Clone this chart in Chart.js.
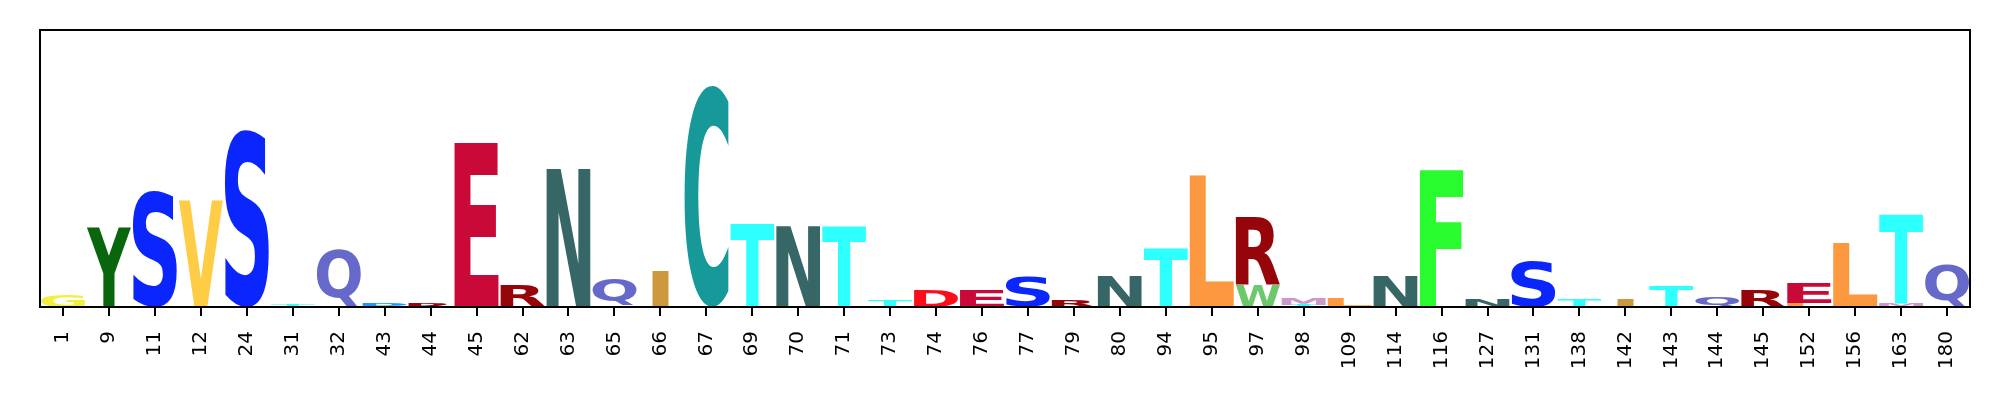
<!DOCTYPE html>
<html>
<head>
<meta charset="utf-8">
<script src="https://cdn.jsdelivr.net/npm/chart.js@4.4.1/dist/chart.umd.min.js"></script>
<style>
  body { margin: 0; background: #ffffff; }
</style>
</head>
<body>
<canvas id="logo" width="2000" height="400"></canvas>
<script>
// Datos del logo (posiciones y altura de cada letra, en bits)
const posiciones = ['1','9','11','12','24','31','32','43','44','45','62','63','65','66','67','69','70','71','73','74','76','77','79','80','94','95','97','98','109','114','116','127','131','138','142','143','144','145','152','156','163','180'];

// letra de abajo de cada columna (vacio si no hay)
const letrasAbajo = ['','','','','','','','','','','W','','I','','','','','','','','','','','','','','W','T','','','','','','','','','','','L','','M',''];
const alturasAbajo = [0,0,0,0,0,0,0,0,0,0,0.02,0,0.02,0,0,0,0,0,0,0,0,0,0,0,0,0,0.34,0.03,0,0,0,0,0,0,0,0,0,0,0.07,0,0.05,0];

// letra de arriba de cada columna
const letrasArriba = ['G','Y','S','V','S','T','Q','P','R','E','R','N','Q','I','C','T','N','T','T','D','E','S','R','N','T','L','R','M','L','N','F','N','S','T','I','T','Q','R','E','L','T','Q'];
const alturasArriba = [0.18,1.23,1.81,1.66,2.76,0.03,0.89,0.06,0.05,2.56,0.32,2.15,0.42,0.56,3.46,1.28,1.26,1.25,0.11,0.27,0.27,0.47,0.11,0.48,0.92,2.05,1.05,0.09,0.14,0.48,2.14,0.12,0.71,0.12,0.12,0.32,0.15,0.27,0.30,1.00,1.38,0.66];

//Colores de cada aminoacido
const colores = {
    A: '#8c363d', C: '#179999', D: '#fc0d1c', E: '#c90a38', F: '#29fc2e',
    G: '#f2f03d', H: '#660533', I: '#cc993d', K: '#a33b96', L: '#fc9940',
    M: '#cc99cc', N: '#366666', P: '#1a9cfc', Q: '#6669c9', R: '#96050a',
    S: '#0a26fc', T: '#2effff', V: '#ffcc45', W: '#6bc96b', Y: '#0a660d'
};

// Dibuja cada letra estirada dentro de su barra
const pluginLetras = {
    id: 'letras',
    afterDatasetsDraw(chart) {
        const ctx = chart.ctx;
        ctx.save();
        ctx.font = 'bold 200px "DejaVu Sans"';
        ctx.textAlign = 'left';
        ctx.textBaseline = 'alphabetic';
        const refE = ctx.measureText('E');
        const anchoE = refE.actualBoundingBoxLeft + refE.actualBoundingBoxRight;

        chart.data.datasets.forEach((ds, i) => {
            const meta = chart.getDatasetMeta(i);
            meta.data.forEach((bar, j) => {
                const letra = ds.letras[j];
                if (!letra || !ds.data[j]) return;
                const { x, y, base, width } = bar.getProps(['x', 'y', 'base', 'width'], true);
                const alto = base - y;
                const m = ctx.measureText(letra);
                const tintaW = m.actualBoundingBoxLeft + m.actualBoundingBoxRight;
                const tintaH = m.actualBoundingBoxAscent + m.actualBoundingBoxDescent;
                const sx = width / Math.max(tintaW, anchoE);
                const sy = alto / tintaH;
                ctx.save();
                ctx.translate(x - tintaW * sx / 2, y);
                ctx.scale(sx, sy);
                ctx.fillStyle = colores[letra];
                ctx.fillText(letra, m.actualBoundingBoxLeft, m.actualBoundingBoxAscent);
                ctx.restore();
            });
        });
        ctx.restore();
    }
};

// Marco negro alrededor del area
const pluginMarco = {
    id: 'marco',
    afterDraw(chart) {
        const { ctx, chartArea } = chart;
        ctx.save();
        ctx.strokeStyle = '#000000';
        ctx.lineWidth = 2;
        ctx.strokeRect(chartArea.left, chartArea.top, chartArea.right - chartArea.left, chartArea.bottom - chartArea.top);
        ctx.restore();
    }
};

const dataLogo = {
    labels: posiciones,
    datasets: [
        {
            data: alturasAbajo,
            letras: letrasAbajo,
            backgroundColor: 'rgba(0,0,0,0)',
            borderWidth: 0,
            barPercentage: 0.96,
            categoryPercentage: 1
        },
        {
            data: alturasArriba,
            letras: letrasArriba,
            backgroundColor: 'rgba(0,0,0,0)',
            borderWidth: 0,
            barPercentage: 0.96,
            categoryPercentage: 1
        }
    ]
};

const config = {
    type: 'bar',
    data: dataLogo,
    options: {
        responsive: false,
        animation: false,
        devicePixelRatio: 1,
        layout: {
            padding: { top: 30, left: 40, right: 30, bottom: 0 }
        },
        plugins: {
            legend: { display: false },
            tooltip: { enabled: false }
        },
        scales: {
            x: {
                stacked: true,
                offset: true,
                afterFit: (scale) => { scale.height = 93; },
                grid: {
                    display: true,
                    offset: false,
                    drawOnChartArea: false,
                    drawTicks: true,
                    tickLength: 9,
                    color: '#000000',
                    lineWidth: 2
                },
                border: { display: true, color: '#000000', width: 2 },
                ticks: {
                    autoSkip: false,
                    minRotation: 90,
                    maxRotation: 90,
                    padding: 15,
                    color: '#000000',
                    font: { family: '"DejaVu Sans"', size: 20 }
                }
            },
            y: {
                stacked: true,
                display: false,
                min: 0,
                max: 4.32
            }
        }
    },
    plugins: [pluginLetras, pluginMarco]
};

new Chart(document.getElementById('logo'), config);//Crea el logo
</script>
</body>
</html>
